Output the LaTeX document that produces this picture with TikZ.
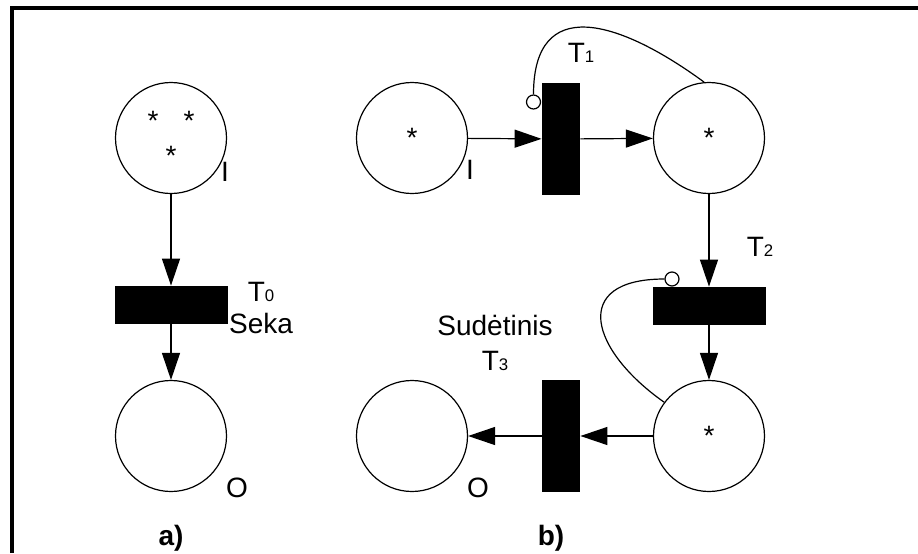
\documentclass[tikz,border=0pt]{standalone}
\usepackage{fontspec}
\setmainfont{Liberation Sans}
\usetikzlibrary{arrows.meta}
\newcommand{\tsub}[1]{{\fontsize{8.4pt}{10pt}\selectfont #1}}

\begin{document}
\begin{tikzpicture}[x=0.5pt, y=-0.5pt,
    every node/.style={font=\fontsize{14pt}{16pt}\selectfont},
    place/.style={circle, draw, line width=0.6pt, minimum size=55.5pt, inner sep=0pt},
    hbar/.style={fill=black, minimum width=56.5pt, minimum height=19pt, inner sep=0pt},
    vbar/.style={fill=black, minimum width=19pt, minimum height=56pt, inner sep=0pt},
    inhib/.style={circle, draw, fill=white, line width=0.6pt, minimum size=7pt, inner sep=0pt},
    flow/.style={line width=0.6pt, -{Triangle[length=13.5pt, width=9pt]}}]
    \useasboundingbox (0,0) rectangle (918,553);
    \draw[line width=2pt] (11.5,553) -- (11.5,8) -- (918,8);

    % a) sequence
    \node[place] (pIa) at (171,138) {};
    \foreach \sx/\sy in {153/121, 189/121, 171/156} \node at (\sx,\sy) {*};
    \node[hbar] (tA) at (171,305) {};
    \node[place] (pOa) at (171,436) {};
    \draw[flow] (pIa) -- (tA);
    \draw[flow] (tA) -- (pOa);
    \node (lIa) at (225,172) {I};
    \node (lOa) at (237,488) {O};
    \node[align=center] (lTa) at (261,308) {T\tsub{0}\\Seka};
    \node[anchor=base, font=\fontsize{14pt}{16pt}\selectfont\bfseries] (capA) at (171,545) {a)};

    % b) composite
    \node[place] (pIb) at (412,138) {*};
    \node[vbar] (tB) at (561,139) {};
    \node[place] (pM) at (709,138) {*};
    \node[hbar] (tC) at (709,306) {};
    \node[place] (pN) at (709,436) {*};
    \node[vbar] (tD) at (561,436) {};
    \node[place] (pOb) at (412,436) {};
    \draw[flow] (pIb) -- (tB);
    \draw[flow] (tB) -- (pM);
    \draw[flow] (pM) -- (tC);
    \draw[flow] (tC) -- (pN);
    \draw[flow] (pN) -- (tD);
    \draw[flow] (tD) -- (pOb);

    % inhibitor arcs
    \node[inhib] (iB) at (533.5,102) {};
    \node[inhib] (iC) at (672,279) {};
    \draw[line width=0.6pt] (pM.95) .. controls +(-86,-63) and +(0,-100) .. (iB.north);
    \draw[line width=0.6pt] (pN.143) .. controls +(-74,-52) and +(-95,0) .. (iC.west);

    \node (lIb) at (470,170) {I};
    \node (lOb) at (478,488) {O};
    \node (lTb) at (581,52.5) {T\tsub{1}};
    \node (lTc) at (760,247) {T\tsub{2}};
    \node[align=center] (lTd) at (495,343) {Sudėtinis\\[1.5pt]T\tsub{3}};
    \node[anchor=base, font=\fontsize{14pt}{16pt}\selectfont\bfseries] (capB) at (551,545) {b)};
\end{tikzpicture}
\end{document}
